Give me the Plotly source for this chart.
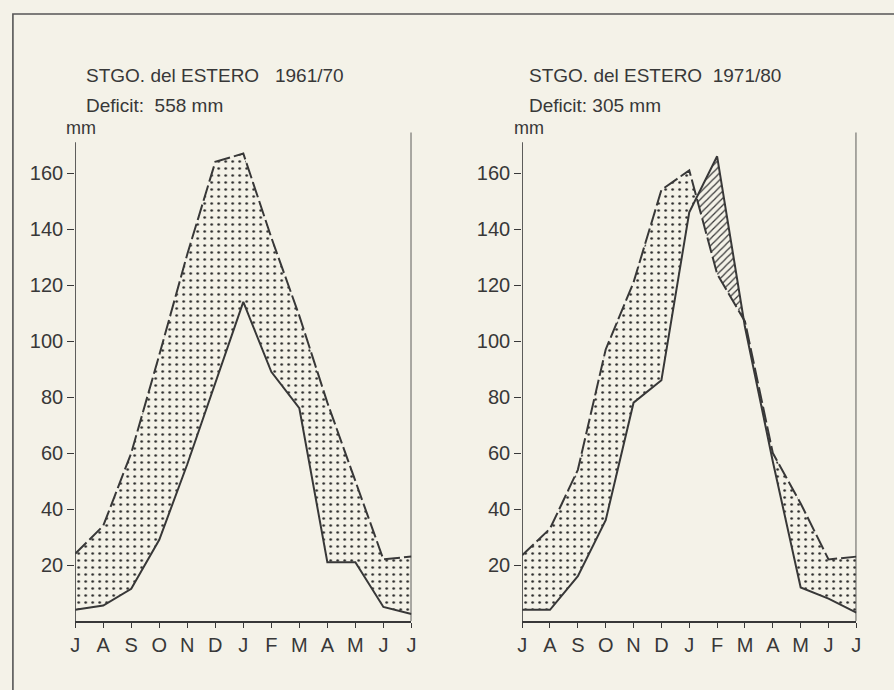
import plotly.graph_objects as go

# ---------------- data ----------------
months = ["J", "A", "S", "O", "N", "D", "J", "F", "M", "A", "M", "J", "J"]
yticks = [20, 40, 60, 80, 100, 120, 140, 160]

# potential evapotranspiration (dashed) and precipitation (solid), mm
pet_6170 = [24, 34, 60, 95, 131, 164, 167, 137, 109, 78, 50, 22, 23]
pre_6170 = [4, 5.5, 11.5, 29, 56, 85, 114, 89, 76, 21, 21, 5, 2.5]
pet_7180 = [23.5, 33, 54, 97, 121, 154, 161, 124, 107, 60, 42, 22, 23]
pre_7180 = [4, 4, 16, 36, 78, 86, 146, 166, 105, 57, 12, 8, 3]

titles = ["STGO. del ESTERO\u00a0\u00a0 1961/70", "STGO. del ESTERO\u00a0 1971/80"]
deficits = ["Deficit:\u00a0 558 mm", "Deficit: 305 mm"]

# ---------------- style ----------------
BG = "#f4f2e8"
INK = "#383838"
FONT = "Liberation Sans, Arial, sans-serif"
W, H = 894, 690
YMAX = 175.4


def with_crossings(pet, pre):
    xs, a, b = [], [], []
    n = len(pet)
    for i in range(n):
        xs.append(i); a.append(pet[i]); b.append(pre[i])
        if i < n - 1:
            d0 = pet[i] - pre[i]
            d1 = pet[i + 1] - pre[i + 1]
            if d0 * d1 < 0:
                t = d0 / (d0 - d1)
                yc = pet[i] + t * (pet[i + 1] - pet[i])
                xs.append(i + t); a.append(yc); b.append(yc)
    return xs, a, b


fig = go.Figure()
panels = [(pet_6170, pre_6170, "x", "y"), (pet_7180, pre_7180, "x2", "y2")]
xidx = list(range(len(months)))

for pet, pre, xa, ya in panels:
    xs, a, b = with_crossings(pet, pre)
    lo = [min(u, v) for u, v in zip(a, b)]
    hi = [max(u, v) for u, v in zip(a, b)]
    # deficit (stippled): between pet and min(pet, pre)
    fig.add_trace(go.Scatter(x=xs, y=lo, mode="lines", line=dict(width=0),
                             xaxis=xa, yaxis=ya, showlegend=False, hoverinfo="skip"))
    fig.add_trace(go.Scatter(x=xs, y=a, mode="lines", line=dict(width=0),
                             fill="tonexty", fillcolor=BG,
                             fillpattern=dict(shape=".", fgcolor="#2a2a2a", bgcolor=BG,
                                              size=7, solidity=0.11, fillmode="replace"),
                             xaxis=xa, yaxis=ya, showlegend=False, hoverinfo="skip"))
    # surplus (hatched): between pet and max(pet, pre)
    fig.add_trace(go.Scatter(x=xs, y=a, mode="lines", line=dict(width=0),
                             xaxis=xa, yaxis=ya, showlegend=False, hoverinfo="skip"))
    fig.add_trace(go.Scatter(x=xs, y=hi, mode="lines", line=dict(width=0),
                             fill="tonexty", fillcolor=BG,
                             fillpattern=dict(shape="/", fgcolor="#3a3a3a", bgcolor=BG,
                                              size=5, solidity=0.25, fillmode="replace"),
                             xaxis=xa, yaxis=ya, showlegend=False, hoverinfo="skip"))
    # curves
    fig.add_trace(go.Scatter(x=xidx, y=pet, mode="lines",
                             line=dict(color=INK, width=2, dash="16px,4px"),
                             xaxis=xa, yaxis=ya, showlegend=False))
    fig.add_trace(go.Scatter(x=xidx, y=pre, mode="lines",
                             line=dict(color=INK, width=2),
                             xaxis=xa, yaxis=ya, showlegend=False))

xdom = [[71 / W, 411 / W], [523 / W, 861 / W]]
ydom = [1 - 621 / H, 1 - 130 / H]

axis_common = dict(showgrid=False, zeroline=False, ticks="outside",
                   tickcolor=INK, tickwidth=1.3,
                   tickfont=dict(family=FONT, size=20, color=INK))

layout = dict(width=W, height=H, margin=dict(l=0, r=0, t=0, b=0),
              paper_bgcolor=BG, plot_bgcolor=BG, showlegend=False)
for k, (xn, yn) in enumerate([("xaxis", "yaxis"), ("xaxis2", "yaxis2")]):
    layout[xn] = dict(domain=xdom[k], range=[0, 12], tickvals=xidx, ticktext=months,
                      ticklen=5, showline=True, linecolor=INK, linewidth=1.6,
                      anchor="y" if k == 0 else "y2", **axis_common)
    layout[yn] = dict(domain=ydom, range=[0, YMAX], tickvals=yticks,
                      ticktext=[str(v) for v in yticks], ticklen=7, showline=False,
                      anchor="x" if k == 0 else "x2", **axis_common)
fig.update_layout(**layout)

shapes = []
for xr, yr in [("x", "y"), ("x2", "y2")]:
    shapes.append(dict(type="line", xref=xr, yref=yr, x0=0, x1=0, y0=0, y1=171,
                       line=dict(color=INK, width=1.6)))
    shapes.append(dict(type="line", xref=xr, yref=yr, x0=12, x1=12, y0=0, y1=174.5,
                       line=dict(color=INK, width=1.6)))
# outer frame
shapes.append(dict(type="rect", xref="paper", yref="paper", x0=8 / W, x1=1.05,
                   y0=-0.05, y1=1 - 14 / H, line=dict(color="#555555", width=1.6)))
fig.update_layout(shapes=shapes)

ann = []
tx = [80 / W, 528 / W]
mmx = [60 / W, 513 / W]
for k in range(2):
    ann.append(dict(text=titles[k], x=tx[k], y=1 - 75 / H, xref="paper", yref="paper",
                    xanchor="left", yanchor="middle", showarrow=False,
                    font=dict(family=FONT, size=19, color=INK)))
    ann.append(dict(text=deficits[k], x=tx[k], y=1 - 105 / H, xref="paper", yref="paper",
                    xanchor="left", yanchor="middle", showarrow=False,
                    font=dict(family=FONT, size=19, color=INK)))
    ann.append(dict(text="mm", x=mmx[k], y=1 - 128 / H, xref="paper", yref="paper",
                    xanchor="left", yanchor="middle", showarrow=False,
                    font=dict(family=FONT, size=18, color=INK)))
fig.update_layout(annotations=ann)

fig.write_html("out.html")
